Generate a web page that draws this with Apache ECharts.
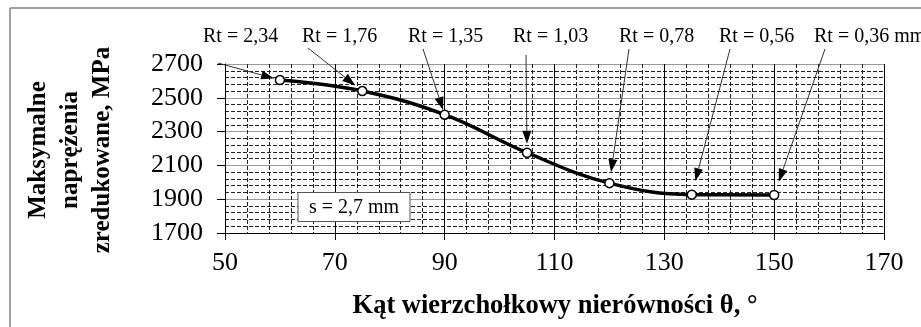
<!DOCTYPE html>
<html>
<head>
<meta charset="utf-8">
<script src="https://cdn.jsdelivr.net/npm/echarts@6/dist/echarts.min.js"></script>
<style>
html,body{margin:0;padding:0;background:#fff;}
#main{width:921px;height:327px;}
</style>
</head>
<body>
<div id="main"></div>
<script>
// ---- data ----
var angles = [60, 75, 90, 105, 120, 135, 150];
var stress = [2605, 2540, 2400, 2175, 1995, 1927, 1925];
var rtLabels = ['Rt = 2,34', 'Rt = 1,76', 'Rt = 1,35', 'Rt = 1,03', 'Rt = 0,78', 'Rt = 0,56', 'Rt = 0,36 mm'];
var xTicks = [50, 70, 90, 110, 130, 150, 170];
var yTicks = [1700, 1900, 2100, 2300, 2500, 2700];
var yTitle = 'Maksymalne\nnaprężenia\nzredukowane, MPa';
var xTitle = 'Kąt wierzchołkowy nierówności θ, °';
var noteText = 's = 2,7 mm';

// ---- layout (pixels) ----
var labelLeft = [203, 302, 408, 513, 619, 719, 814];
var labelY = 37;
var arrowStart = [[218, 63], [308, 48], [423, 49], [526, 55], [629, 49], [730, 49], [825, 49]];
var arrowGap = [6, 9, 5, 9, 11, 14, 14];
var FONT = 'Liberation Serif';

var chart = echarts.init(document.getElementById('main'), null, {renderer: 'canvas'});
var option = {
  animation: false,
  backgroundColor: '#fff',
  grid: {left: 225, top: 64, width: 659, height: 169, containLabel: false},
  xAxis: {
    type: 'value', min: xTicks[0], max: xTicks[xTicks.length - 1], interval: 20,
    axisLine: {show: true, onZero: false, lineStyle: {color: '#000', width: 1}},
    axisTick: {show: true, inside: false, length: 7, lineStyle: {color: '#000'}},
    axisLabel: {margin: 17, fontFamily: FONT, fontSize: 26, color: '#000', formatter: function (v) { return String(v); }},
    splitLine: {show: true, lineStyle: {color: '#000', width: 1}},
    minorTick: {show: false, splitNumber: 5},
    minorSplitLine: {show: true, lineStyle: {color: '#222', width: 1, type: [4, 2]}}
  },
  yAxis: {
    type: 'value', min: yTicks[0], max: yTicks[yTicks.length - 1], interval: 200,
    axisLine: {show: true, lineStyle: {color: '#000', width: 1}},
    axisTick: {show: true, inside: false, length: 8, lineStyle: {color: '#000'}},
    axisLabel: {margin: 22, fontFamily: FONT, fontSize: 26, color: '#000', formatter: function (v) { return String(v); }},
    splitLine: {show: true, lineStyle: {color: '#9a9a9a', width: 1}},
    minorTick: {show: false, splitNumber: 5},
    minorSplitLine: {show: true, lineStyle: {color: '#222', width: 1, type: [4, 2]}}
  },
  series: [{
    type: 'line',
    data: angles.map(function (a, i) { return [a, stress[i]]; }),
    smooth: 0.4,
    symbol: 'circle', symbolSize: 9, showSymbol: true,
    lineStyle: {color: '#000', width: 3.5},
    itemStyle: {color: '#fff', borderColor: '#000', borderWidth: 1.5},
    z: 5
  }]
};
chart.setOption(option);

// ---- annotations ----
var g = [];
// outer frame
g.push({type: 'line', shape: {x1: 10, y1: 8, x2: 10, y2: 327}, style: {stroke: '#a0a0a0', lineWidth: 2}, z: 1});
g.push({type: 'line', shape: {x1: 10, y1: 8, x2: 921, y2: 8}, style: {stroke: '#a0a0a0', lineWidth: 2}, z: 1});
// axis titles
g.push({type: 'text', x: 71, y: 150, rotation: Math.PI / 2,
  style: {text: yTitle, fontFamily: FONT, fontSize: 25, fontWeight: 'bold', fill: '#000', align: 'center', verticalAlign: 'middle', lineHeight: 32}, z: 10});
g.push({type: 'text', x: 555, y: 306,
  style: {text: xTitle, fontFamily: FONT, fontSize: 26.5, fontWeight: 'bold', fill: '#000', align: 'center', verticalAlign: 'middle'}, z: 10});
// note box
g.push({type: 'rect', shape: {x: 298, y: 192.5, width: 112, height: 29}, style: {fill: '#fff', stroke: '#555', lineWidth: 1}, z: 20});
g.push({type: 'text', x: 354, y: 207.5,
  style: {text: noteText, fontFamily: FONT, fontSize: 20, fill: '#000', align: 'center', verticalAlign: 'middle'}, z: 21});

for (var i = 0; i < angles.length; i++) {
  g.push({type: 'text', x: labelLeft[i], y: labelY,
    style: {text: rtLabels[i], fontFamily: FONT, fontSize: 20, fill: '#000', align: 'left', verticalAlign: 'middle'}, z: 10});
  var p = chart.convertToPixel({gridIndex: 0}, [angles[i], stress[i]]);
  var s = arrowStart[i];
  var dx = p[0] - s[0], dy = p[1] - s[1];
  var len = Math.sqrt(dx * dx + dy * dy);
  var ux = dx / len, uy = dy / len;
  var tx = p[0] - ux * arrowGap[i], ty = p[1] - uy * arrowGap[i];
  var headL = 13, headW = 4.5;
  var bx = tx - ux * headL, by = ty - uy * headL;
  g.push({type: 'line', shape: {x1: s[0], y1: s[1], x2: bx, y2: by}, style: {stroke: '#333', lineWidth: 1}, z: 15});
  g.push({type: 'polygon', shape: {points: [[tx, ty], [bx - uy * headW, by + ux * headW], [bx + uy * headW, by - ux * headW]]},
    style: {fill: '#000'}, z: 15});
}
chart.setOption({graphic: g});
</script>
</body>
</html>
